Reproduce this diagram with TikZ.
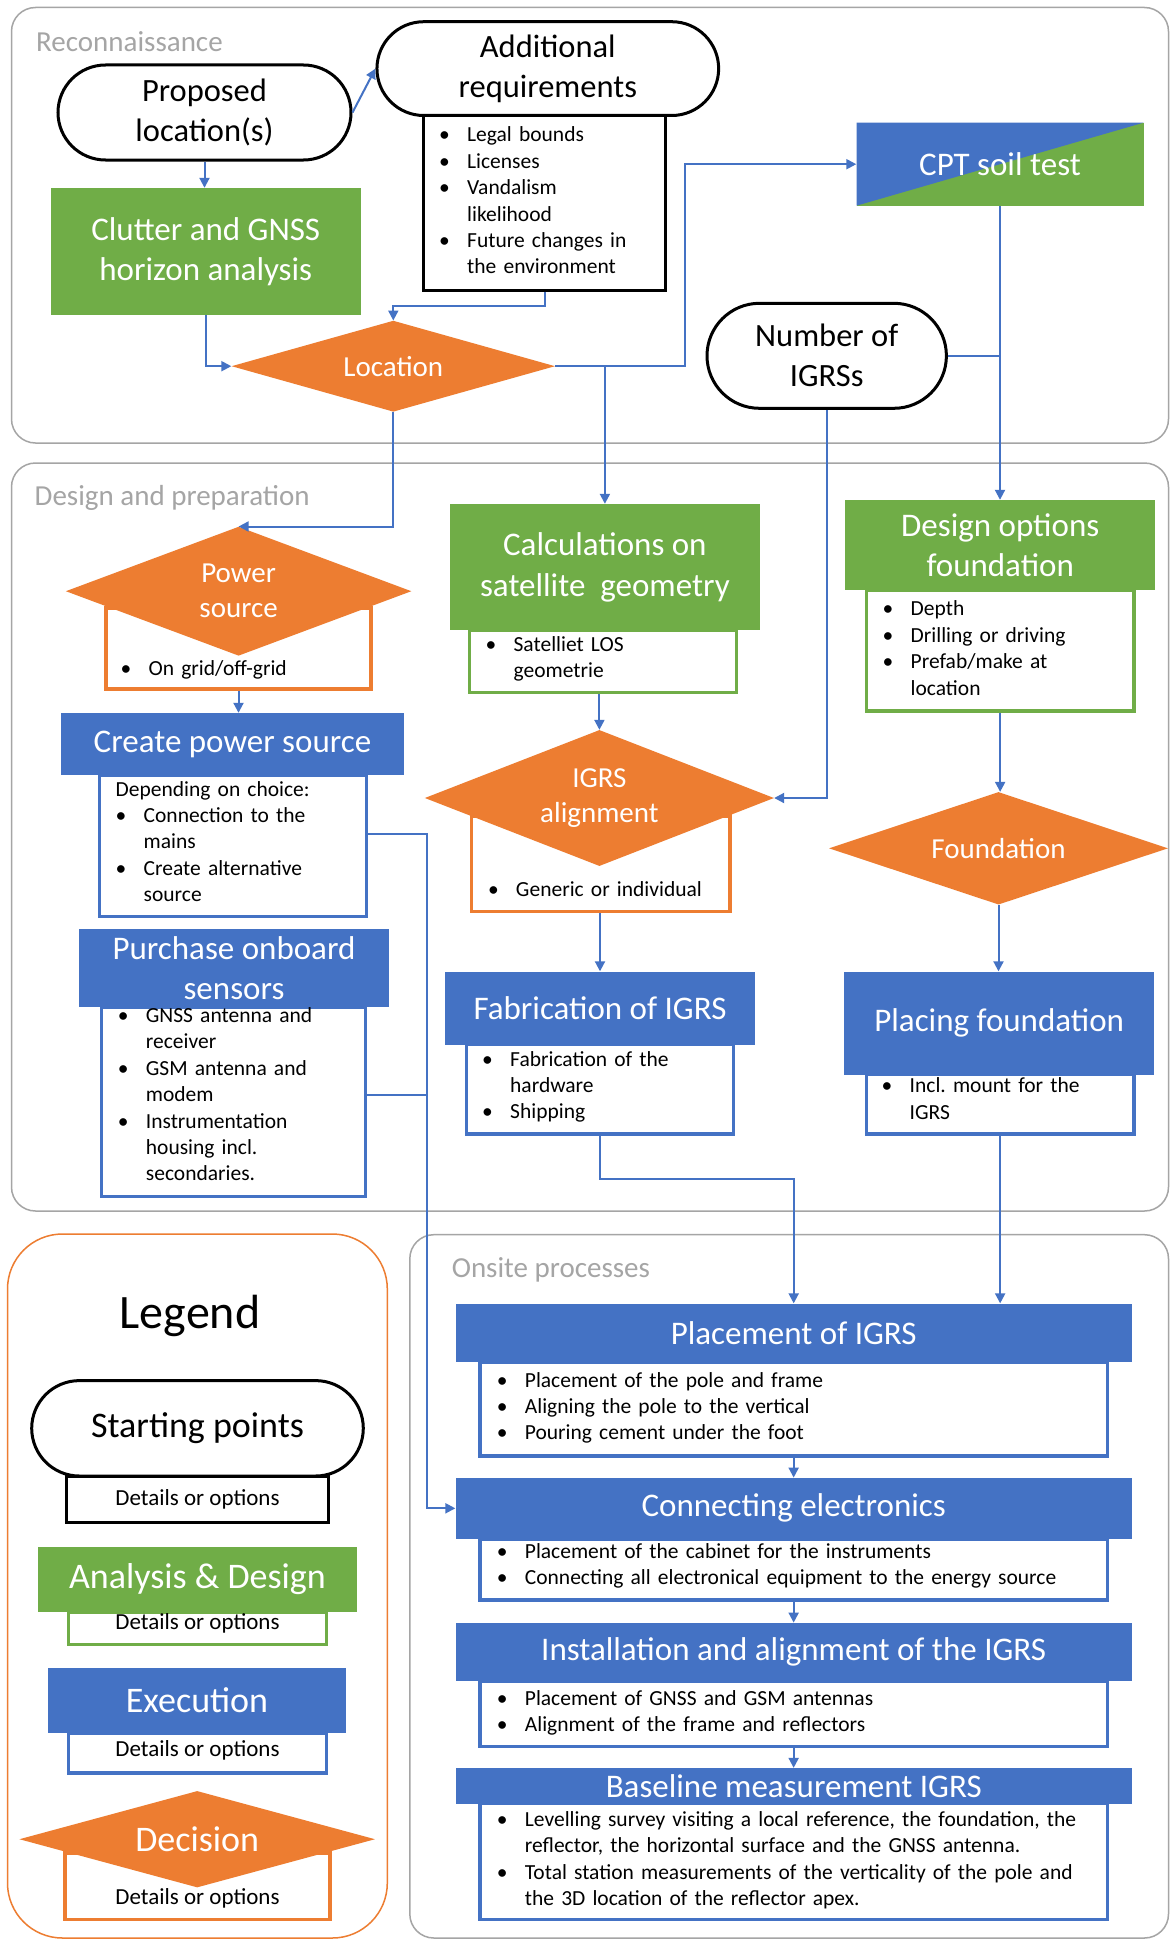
\documentclass[tikz,border=0pt]{standalone}
\usepackage{fontspec}
\setmainfont{Carlito}
\usetikzlibrary{shapes.geometric, shapes.misc, arrows.meta}

\definecolor{iblue}{HTML}{4472C4}
\definecolor{igreen}{HTML}{70AD47}
\definecolor{iorange}{HTML}{ED7D31}
\definecolor{panelgray}{HTML}{A5A5A5}

% bullet and hanging indent for the option lists
\newcommand{\bitem}{\makebox[28pt][l]{\textbullet}}
\newcommand{\bcont}{\hspace*{28pt}}

\tikzset{
  panel/.style={draw=panelgray, line width=1.5pt, rounded corners=24pt},
  paneltitle/.style={anchor=base west, inner sep=0, text=panelgray, font=\fontsize{29}{35}\selectfont},
  startbox/.style={rounded rectangle, draw=black, line width=3pt, fill=white, inner sep=0,
    align=center, font=\fontsize{32.5}{40}\selectfont},
  headbox/.style={rectangle, inner sep=0, text=white, align=center, font=\fontsize{33}{40.5}\selectfont},
  analysis/.style={headbox, fill=igreen},
  execution/.style={headbox, fill=iblue},
  decision/.style={diamond, fill=iorange, text=white, inner sep=0, align=center,
    font=\fontsize{29}{35}\selectfont},
  detbox/.style={rectangle, draw, line width=3.5pt, fill=white, inner sep=0},
  dettext/.style={anchor=base west, inner sep=0, align=left, text width=640pt,
    font=\fontsize{21.5}{26.4}\selectfont},
  legtext/.style={inner sep=0, font=\fontsize{23}{28}\selectfont},
  flow/.style={draw=iblue, line width=2pt},
  flowarrow/.style={flow, -{Triangle[length=10pt,width=10pt]}}
}

\begin{document}
\begin{tikzpicture}[x=1pt, y=-1pt]
  \fill[white] (0,0) rectangle (1170,1940);
  \useasboundingbox (0,0) rectangle (1170,1940);

  % Phases
  \draw[panel] (11.5,7.5) rectangle (1168.5,443);
  \draw[panel] (11.5,463) rectangle (1168.5,1211);
  \draw[panel] (409.8,1234.7) rectangle (1168.5,1938);
  \draw[panel, draw=iorange, rounded corners=55pt] (7.5,1234) rectangle (387.3,1938);
  \node[paneltitle] (recontitle) at (36,52) {Reconnaissance};
  \node[paneltitle] (designtitle) at (34.5,505) {Design and preparation};
  \node[paneltitle] (onsitetitle) at (451.6,1277) {Onsite processes};

  % Reconnaissance
  \node[detbox, draw=black, line width=3pt, minimum width=242.2pt, minimum height=174.5pt] (adddet) at (544.7,202.75) {};
  \node[startbox, minimum width=293pt, minimum height=95pt] (prop) at (204.5,112.5) {Proposed\\location(s)};
  \node[startbox, minimum width=341.7pt, minimum height=93.8pt] (add) at (547.8,68.6) {Additional\\requirements};
  \node[dettext] (addtxt) at (439,142) {\bitem Legal bounds\\\bitem Licenses\\\bitem Vandalism\\\bcont likelihood\\\bitem Future changes in\\\bcont the environment};
  \node[analysis, minimum width=309.5pt, minimum height=127pt] (clutter) at (205.75,251.5) {Clutter and GNSS\\horizon analysis};
  \node[decision, shape aspect=3.55, minimum width=323.5pt, minimum height=91pt] (loc) at (393.3,366.2) {Location};
  \node[headbox, fill=igreen, minimum width=287pt, minimum height=83pt,
    path picture={
      \fill[iblue] (path picture bounding box.south west) -- (path picture bounding box.north west)
        -- (path picture bounding box.north east) -- cycle;
    }] (cpt) at (1000,164.2) {CPT soil test};
  \node[startbox, minimum width=239.4pt, minimum height=105pt] (num) at (826.7,355.8) {Number of\\IGRSs};

  % Design and preparation
  \node[detbox, draw=iorange, minimum width=265pt, minimum height=81pt] (pwrdet) at (238.5,648.5) {};
  \node[decision, shape aspect=2.68, minimum width=345.6pt, minimum height=129pt] (pwr) at (238.6,591.2) {Power\\source};
  \node[dettext] (pwrtxt) at (120.4,675.5) {\bitem On grid/off-grid};

  \node[detbox, draw=iblue, minimum width=267.1pt, minimum height=141.5pt] (createdet) at (233.05,845.75) {};
  \node[execution, minimum width=343pt, minimum height=62pt] (create) at (232.5,744) {Create power source};
  \node[dettext] (createtxt) at (115.5,796) {Depending on choice:\\\bitem Connection to the\\\bcont mains\\\bitem Create alternative\\\bcont source};

  \node[detbox, draw=iblue, minimum width=264.1pt, minimum height=189pt] (purchdet) at (233.45,1101.9) {};
  \node[execution, minimum width=309.6pt, minimum height=78.9pt] (purch) at (234,968) {Purchase onboard\\sensors};
  \node[dettext] (purchtxt) at (117.7,1022.5) {\bitem GNSS antenna and\\\bcont receiver\\\bitem GSM antenna and\\\bcont modem\\\bitem Instrumentation\\\bcont housing incl.\\\bcont secondaries.};

  \node[detbox, draw=igreen, minimum width=267.4pt, minimum height=62.2pt] (calcdet) at (603,661.5) {};
  \node[analysis, minimum width=309.6pt, minimum height=126.4pt] (calc) at (604.9,567.2) {Calculations on\\satellite\ \ geometry};
  \node[dettext] (calctxt) at (485.4,651.5) {\bitem Satelliet LOS\\\bcont geometrie};

  \node[detbox, draw=iorange, minimum width=258.3pt, minimum height=95.7pt] (igrsdet) at (600.85,863.85) {};
  \node[decision, shape aspect=2.57, minimum width=349.2pt, minimum height=136pt] (igrs) at (599.4,798) {IGRS\\alignment};
  \node[dettext] (igrstxt) at (487.8,896.5) {\bitem Generic or individual};

  \node[detbox, draw=iblue, minimum width=267pt, minimum height=89.5pt] (fabdet) at (599.9,1089.45) {};
  \node[execution, minimum width=310pt, minimum height=73.2pt] (fab) at (600,1008.1) {Fabrication of IGRS};
  \node[dettext] (fabtxt) at (482,1066) {\bitem Fabrication of the\\\bcont hardware\\\bitem Shipping};

  \node[detbox, draw=igreen, minimum width=267.5pt, minimum height=120.6pt] (designdet) at (1000.15,650.5) {};
  \node[analysis, minimum width=309.6pt, minimum height=90.2pt] (design) at (1000.2,545.1) {Design options\\foundation};
  \node[dettext] (designtxt) at (882.5,615.8) {\bitem Depth\\\bitem Drilling or driving\\\bitem Prefab/make at\\\bcont location};

  \node[decision, shape aspect=3.01, minimum width=339pt, minimum height=112.5pt] (found) at (998.5,848.3) {Foundation};

  \node[detbox, draw=iblue, minimum width=267.5pt, minimum height=59.8pt] (placingdet) at (1000.15,1104.3) {};
  \node[execution, minimum width=310.5pt, minimum height=103pt] (placing) at (999.2,1023) {Placing foundation};
  \node[dettext] (placingtxt) at (881.5,1092.8) {\bitem Incl.\ mount for the\\\bcont IGRS};

  % Onsite processes
  \node[detbox, draw=iblue, minimum width=627.3pt, minimum height=94pt] (placementdet) at (793.65,1409.2) {};
  \node[execution, minimum width=676.3pt, minimum height=58.7pt] (placement) at (793.7,1332.9) {Placement of IGRS};
  \node[dettext] (placementtxt) at (496.7,1387) {\bitem Placement of the pole and frame\\\bitem Aligning the pole to the vertical\\\bitem Pouring cement under the foot};

  \node[detbox, draw=iblue, minimum width=627.3pt, minimum height=61pt] (connectdet) at (793.65,1569.3) {};
  \node[execution, minimum width=676.3pt, minimum height=61pt] (connect) at (793.7,1508.3) {Connecting electronics};
  \node[dettext] (connecttxt) at (496.7,1558) {\bitem Placement of the cabinet for the instruments\\\bitem Connecting all electronical equipment to the energy source};

  \node[detbox, draw=iblue, minimum width=627.3pt, minimum height=65.6pt] (installdet) at (793.65,1713.8) {};
  \node[execution, minimum width=676.3pt, minimum height=58.2pt] (install) at (793.7,1651.9) {Installation and alignment of the IGRS};
  \node[dettext] (installtxt) at (496.7,1705) {\bitem Placement of GNSS and GSM antennas\\\bitem Alignment of the frame and reflectors};

  \node[detbox, draw=iblue, minimum width=627.3pt, minimum height=116pt] (basedet) at (793.65,1861.5) {};
  \node[execution, minimum width=676.3pt, minimum height=35.5pt] (base) at (793.7,1785.8) {Baseline measurement IGRS};
  \node[dettext] (basetxt) at (496.7,1826.5) {\bitem Levelling survey visiting a local reference, the foundation, the\\\bcont reflector, the horizontal surface and the GNSS antenna.\\\bitem Total station measurements of the verticality of the pole and\\\bcont the 3D location of the reflector apex.};

  % Legend
  \node[inner sep=0, font=\fontsize{48}{56}\selectfont] (legendtitle) at (190,1316) {Legend};
  \node[detbox, draw=black, line width=3pt, minimum width=261.6pt, minimum height=46.8pt] (startdet) at (197.5,1499.4) {};
  \node[startbox, minimum width=331.6pt, minimum height=95.4pt, font=\fontsize{36}{42}\selectfont] (start) at (197.5,1428.3) {Starting points};
  \node[legtext] (starttxt) at (197.5,1499.8) {Details or options};

  \node[detbox, draw=igreen, minimum width=258.4pt, minimum height=32.1pt] (anadet) at (197.5,1628.25) {};
  \node[analysis, minimum width=318.4pt, minimum height=65.6pt, font=\fontsize{36}{42}\selectfont] (ana) at (197.5,1579.4) {Analysis \& Design};
  \node[legtext] (anatxt) at (197.5,1623) {Details or options};

  \node[detbox, draw=iblue, minimum width=258.4pt, minimum height=40pt] (exedet) at (197.5,1752.8) {};
  \node[execution, minimum width=297.4pt, minimum height=64.6pt, font=\fontsize{36}{42}\selectfont] (exe) at (197,1700.5) {Execution};
  \node[legtext] (exetxt) at (197.5,1750.7) {Details or options};

  \node[detbox, draw=iorange, minimum width=265pt, minimum height=66.5pt] (decdet) at (197.5,1886.25) {};
  \node[decision, shape aspect=3.69, minimum width=355.7pt, minimum height=96.4pt, font=\fontsize{36}{42}\selectfont] (dec) at (197.2,1839.2) {Decision};
  \node[legtext] (dectxt) at (197.5,1898) {Details or options};

  % Connectors
  \draw[flowarrow] (prop.south) -- (prop.south |- clutter.north);
  \draw[flowarrow] (prop.east) -- (add.west);
  \draw[flowarrow] (clutter.south) |- (loc.west);
  \draw[flowarrow] (adddet.south) -- ++(0,14) -| (loc.north);
  \draw[flowarrow] (loc.east) -- ++(130,0) |- (cpt.west);
  \draw[flowarrow] (loc.east -| calc.north) -- (calc.north);
  \draw[flowarrow] (loc.south) |- (pwr.north);
  \draw[flowarrow] (cpt.south) -- (cpt.south |- design.north);
  \draw[flow] (num.east) -- (num.east -| cpt.south);
  \draw[flowarrow] (num.south) |- (igrs.east);
  \draw[flowarrow] (pwrdet.south) -- (pwrdet.south |- create.north);
  \draw[flowarrow] (calcdet.south -| igrs.north) -- (igrs.north);
  \draw[flowarrow] (igrsdet.south -| fab.north) -- (fab.north);
  \draw[flowarrow] (designdet.south) -- (designdet.south |- found.north);
  \draw[flowarrow] (found.south) -- (found.south |- placing.north);
  \draw[flowarrow] (fabdet.south) -- ++(0,43) -| (placement.north);
  \draw[flowarrow] (placingdet.south) -- (placingdet.south |- placement.north);
  \coordinate (bus) at (426.7,834.2);
  \draw[flowarrow] (createdet.east |- bus) -- (bus) |- (connect.west);
  \draw[flow] ([yshift=7pt]purchdet.east) -- ([yshift=7pt]purchdet.east -| bus);
  \draw[flowarrow] (placementdet.south) -- (placementdet.south |- connect.north);
  \draw[flowarrow] (connectdet.south) -- (connectdet.south |- install.north);
  \draw[flowarrow] (installdet.south) -- (installdet.south |- base.north);
\end{tikzpicture}
\end{document}
